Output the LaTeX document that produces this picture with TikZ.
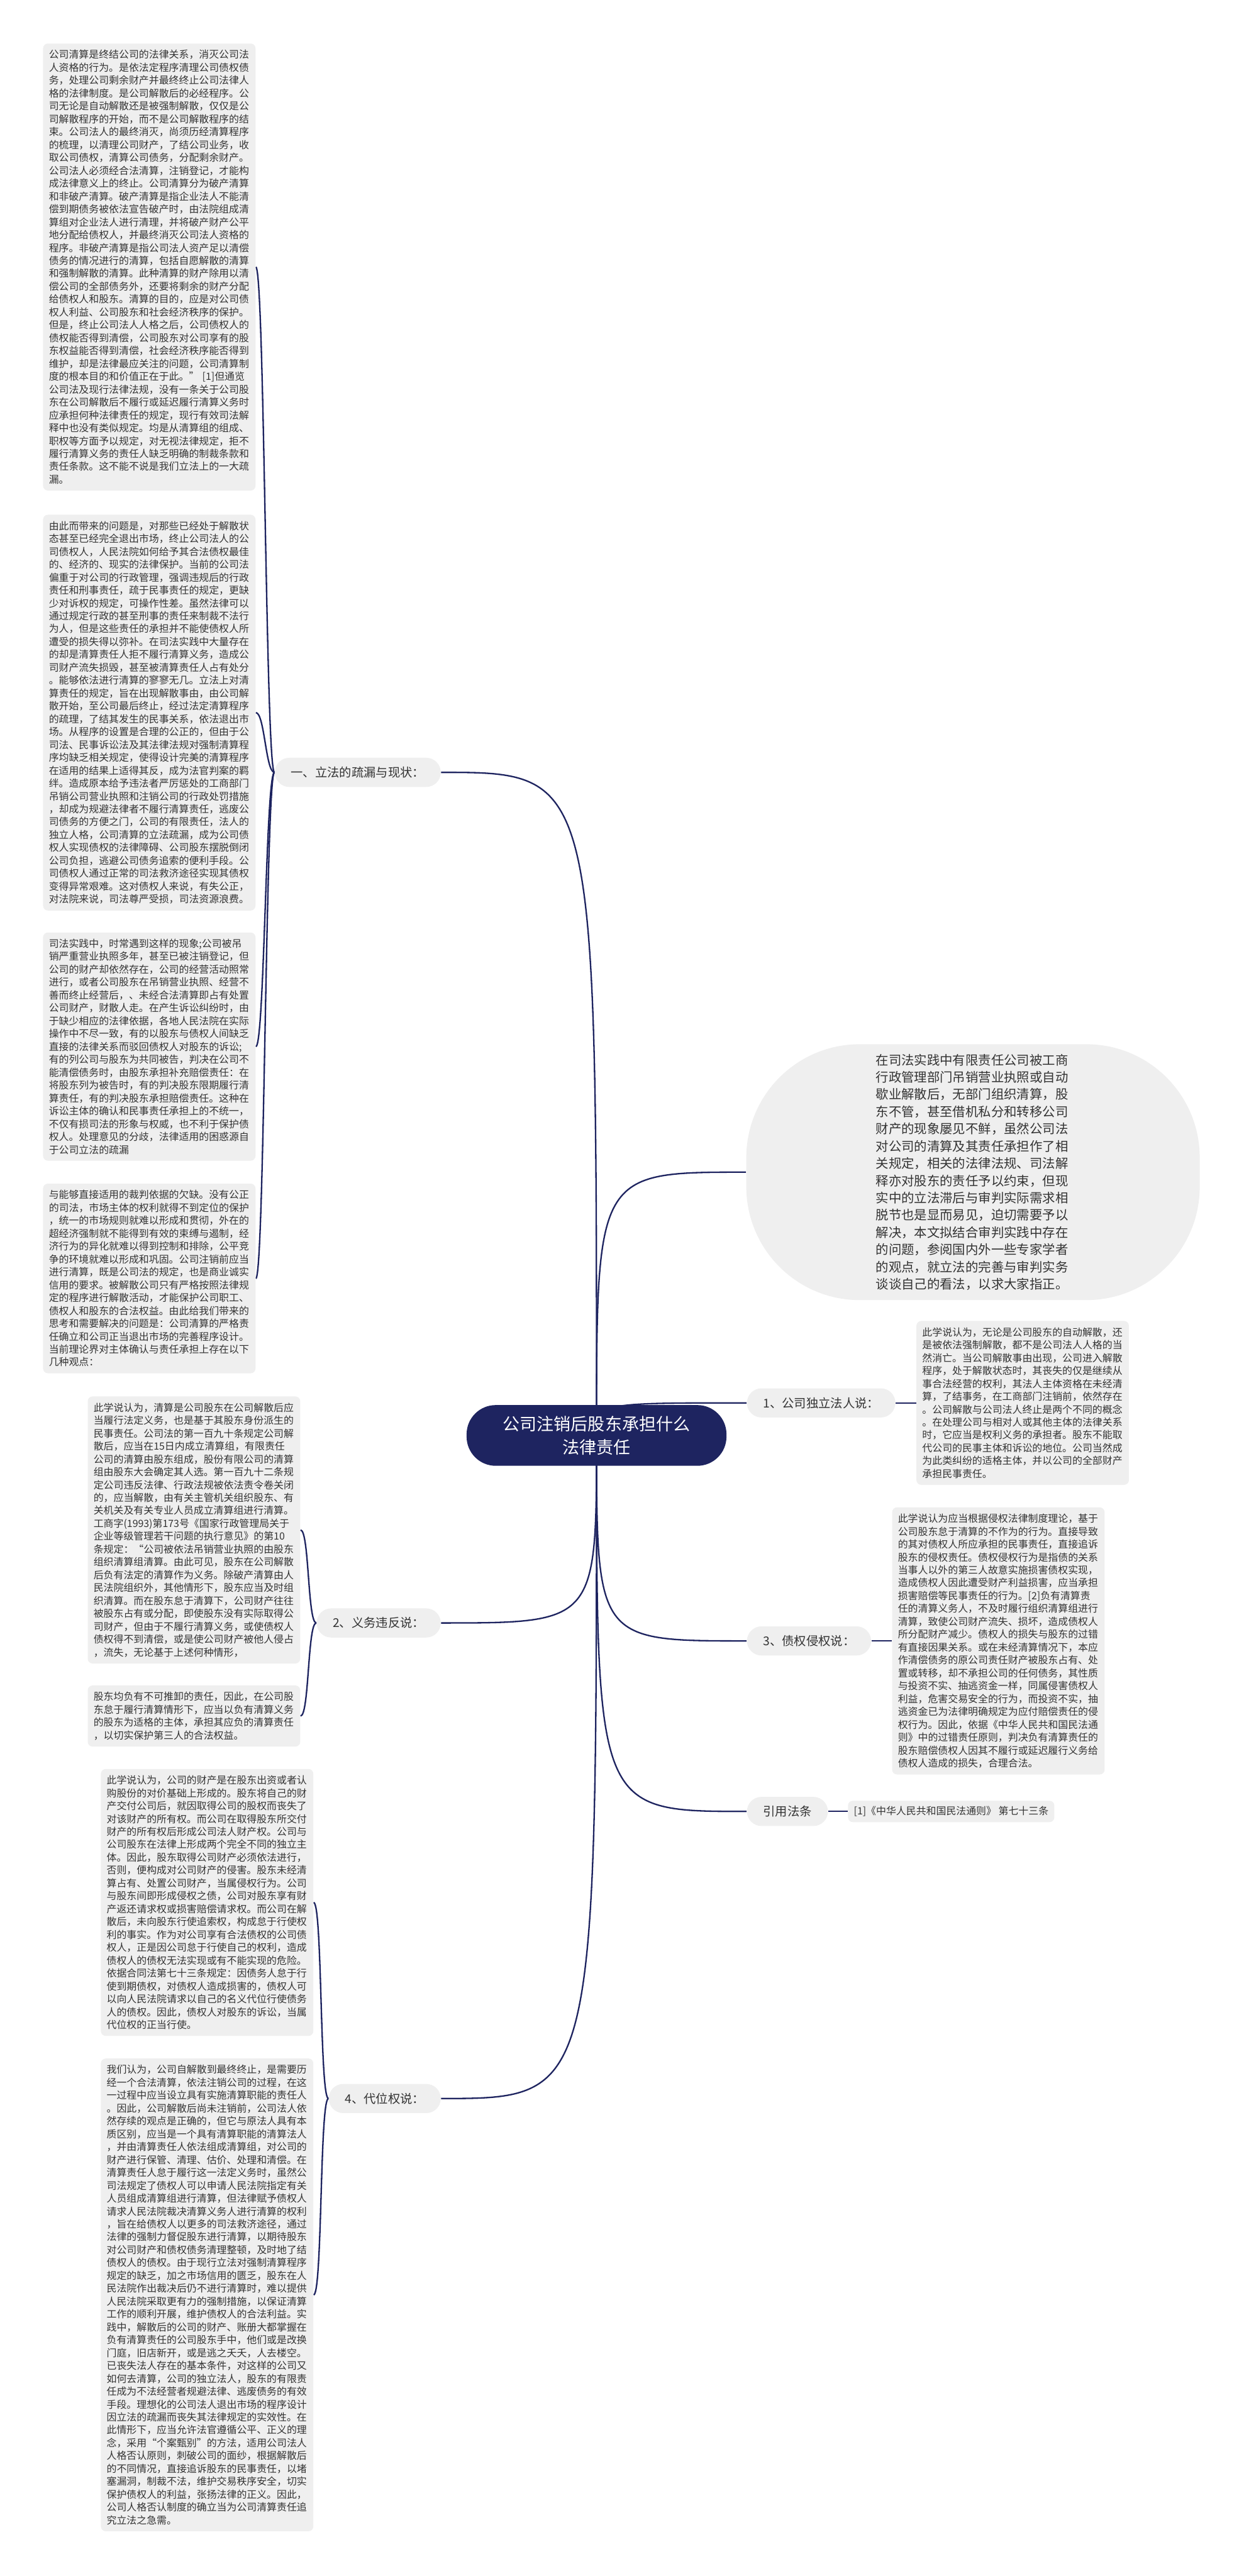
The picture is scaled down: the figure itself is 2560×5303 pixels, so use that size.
\documentclass[tikz,border=0pt]{standalone}
\usepackage{fontspec}
\newfontfamily\cjk{Noto Sans CJK SC}
\usetikzlibrary{backgrounds,calc}
\definecolor{navy}{HTML}{1E2460}
\definecolor{blkgray}{HTML}{EFEFEF}
\definecolor{txt}{HTML}{333333}
\newcommand\blkfont{\cjk\fontsize{6.18pt}{7.95pt}\selectfont}
\newcommand\labfont{\cjk\fontsize{7.5pt}{9pt}\selectfont}
\newcommand\elfont{\cjk\fontsize{7.92pt}{10.65pt}\selectfont}
\newcommand\cenfont{\cjk\fontsize{10.5pt}{14.4pt}\selectfont}
\tikzset{
  blk/.style={fill=blkgray, rounded corners=3pt, text=txt, font=\blkfont, align=left,
    text width=124pt, inner xsep=3.6pt, inner ysep=4pt},
  lab/.style={fill=blkgray, rounded corners=9pt, text=txt, font=\labfont,
    minimum height=18pt, inner xsep=10pt, inner ysep=0pt},
  conn/.style={draw=navy, line width=0.9pt},
}
\begin{document}
\begin{tikzpicture}[x=0.3pt, y=-0.3pt]
\useasboundingbox (0,0) rectangle (2560,5303);

% center
\node[fill=navy, rounded corners=18pt, minimum width=160.5pt, minimum height=37.5pt,
  text=white, font=\cenfont, align=center, inner sep=0pt] (C) at (1228,2955)
  {公司注销后股东承担什么\\法律责任};

% level-1 labels
\node[lab, anchor=east] (L1) at (908,1590) {一、立法的疏漏与现状：};
\node[lab, anchor=east] (L2) at (908,3341) {2、义务违反说：};
\node[lab, anchor=east] (L4) at (908,4320) {4、代位权说：};
\node[lab, anchor=west] (R1) at (1537,2888) {1、公司独立法人说：};
\node[lab, anchor=west] (R3) at (1537,3378) {3、债权侵权说：};
\node[lab, anchor=west] (Rf) at (1537,3729) {引用法条};

% summary
\node[fill=blkgray, rounded corners=70pt, minimum width=280pt, minimum height=158pt,
  text width=120pt, align=left, font=\elfont, text=txt, inner sep=0pt] (E) at (2003,2413)
{在司法实践中有限责任公司被工商\\
行政管理部门吊销营业执照或自动\\
歇业解散后，无部门组织清算，股\\
东不管，甚至借机私分和转移公司\\
财产的现象屡见不鲜，虽然公司法\\
对公司的清算及其责任承担作了相\\
关规定，相关的法律法规、司法解\\
释亦对股东的责任予以约束，但现\\
实中的立法滞后与审判实际需求相\\
脱节也是显而易见，迫切需要予以\\
解决，本文拟结合审判实践中存在\\
的问题，参阅国内外一些专家学者\\
的观点，就立法的完善与审判实务\\
谈谈自己的看法，以求大家指正。};

% left blocks
\node[blk, anchor=north west] (B1) at (88,89)
{公司清算是终结公司的法律关系，消灭公司法\\
人资格的行为。是依法定程序清理公司债权债\\
务，处理公司剩余财产并最终终止公司法律人\\
格的法律制度。是公司解散后的必经程序。公\\
司无论是自动解散还是被强制解散，仅仅是公\\
司解散程序的开始，而不是公司解散程序的结\\
束。公司法人的最终消灭，尚须历经清算程序\\
的梳理，以清理公司财产，了结公司业务，收\\
取公司债权，清算公司债务，分配剩余财产。\\
公司法人必须经合法清算，注销登记，才能构\\
成法律意义上的终止。公司清算分为破产清算\\
和非破产清算。破产清算是指企业法人不能清\\
偿到期债务被依法宣告破产时，由法院组成清\\
算组对企业法人进行清理，并将破产财产公平\\
地分配给债权人，并最终消灭公司法人资格的\\
程序。非破产清算是指公司法人资产足以清偿\\
债务的情况进行的清算，包括自愿解散的清算\\
和强制解散的清算。此种清算的财产除用以清\\
偿公司的全部债务外，还要将剩余的财产分配\\
给债权人和股东。清算的目的，应是对公司债\\
权人利益、公司股东和社会经济秩序的保护。\\
但是，终止公司法人人格之后，公司债权人的\\
债权能否得到清偿，公司股东对公司享有的股\\
东权益能否得到清偿，社会经济秩序能否得到\\
维护，却是法律最应关注的问题，公司清算制\\
度的根本目的和价值正在于此。”\ [1]但通览\\
公司法及现行法律法规，没有一条关于公司股\\
东在公司解散后不履行或延迟履行清算义务时\\
应承担何种法律责任的规定，现行有效司法解\\
释中也没有类似规定。均是从清算组的组成、\\
职权等方面予以规定，对无视法律规定，拒不\\
履行清算义务的责任人缺乏明确的制裁条款和\\
责任条款。这不能不说是我们立法上的一大疏\\
漏。};

\node[blk, anchor=north west] (B2) at (88,1059)
{由此而带来的问题是，对那些已经处于解散状\\
态甚至已经完全退出市场，终止公司法人的公\\
司债权人，人民法院如何给予其合法债权最佳\\
的、经济的、现实的法律保护。当前的公司法\\
偏重于对公司的行政管理，强调违规后的行政\\
责任和刑事责任，疏于民事责任的规定，更缺\\
少对诉权的规定，可操作性差。虽然法律可以\\
通过规定行政的甚至刑事的责任来制裁不法行\\
为人，但是这些责任的承担并不能使债权人所\\
遭受的损失得以弥补。在司法实践中大量存在\\
的却是清算责任人拒不履行清算义务，造成公\\
司财产流失损毁，甚至被清算责任人占有处分\\
。能够依法进行清算的寥寥无几。立法上对清\\
算责任的规定，旨在出现解散事由，由公司解\\
散开始，至公司最后终止，经过法定清算程序\\
的疏理，了结其发生的民事关系，依法退出市\\
场。从程序的设置是合理的公正的，但由于公\\
司法、民事诉讼法及其法律法规对强制清算程\\
序均缺乏相关规定，使得设计完美的清算程序\\
在适用的结果上适得其反，成为法官判案的羁\\
绊。造成原本给予违法者严厉惩处的工商部门\\
吊销公司营业执照和注销公司的行政处罚措施\\
，却成为规避法律者不履行清算责任，逃废公\\
司债务的方便之门，公司的有限责任，法人的\\
独立人格，公司清算的立法疏漏，成为公司债\\
权人实现债权的法律障碍、公司股东摆脱倒闭\\
公司负担，逃避公司债务追索的便利手段。公\\
司债权人通过正常的司法救济途径实现其债权\\
变得异常艰难。这对债权人来说，有失公正，\\
对法院来说，司法尊严受损，司法资源浪费。};

\node[blk, anchor=north west] (B3) at (88,1919)
{司法实践中，时常遇到这样的现象;公司被吊\\
销严重营业执照多年，甚至已被注销登记，但\\
公司的财产却依然存在，公司的经营活动照常\\
进行，或者公司股东在吊销营业执照、经营不\\
善而终止经营后，、未经合法清算即占有处置\\
公司财产，财散人走。在产生诉讼纠纷时，由\\
于缺少相应的法律依据，各地人民法院在实际\\
操作中不尽一致，有的以股东与债权人间缺乏\\
直接的法律关系而驳回债权人对股东的诉讼;\\
有的列公司与股东为共同被告，判决在公司不\\
能清偿债务时，由股东承担补充赔偿责任：在\\
将股东列为被告时，有的判决股东限期履行清\\
算责任，有的判决股东承担赔偿责任。这种在\\
诉讼主体的确认和民事责任承担上的不统一，\\
不仅有损司法的形象与权威，也不利于保护债\\
权人。处理意见的分歧，法律适用的困惑源自\\
于公司立法的疏漏};

\node[blk, anchor=north west] (B4) at (88,2436)
{与能够直接适用的裁判依据的欠缺。没有公正\\
的司法，市场主体的权利就得不到定位的保护\\
，统一的市场规则就难以形成和贯彻，外在的\\
超经济强制就不能得到有效的束缚与遏制，经\\
济行为的异化就难以得到控制和排除，公平竞\\
争的环境就难以形成和巩固。公司注销前应当\\
进行清算，既是公司法的规定，也是商业诚实\\
信用的要求。被解散公司只有严格按照法律规\\
定的程序进行解散活动，才能保护公司职工、\\
债权人和股东的合法权益。由此给我们带来的\\
思考和需要解决的问题是：公司清算的严格责\\
任确立和公司正当退出市场的完善程序设计。\\
当前理论界对主体确认与责任承担上存在以下\\
几种观点：};

\node[blk, anchor=north west] (B5) at (180,2874)
{此学说认为，清算是公司股东在公司解散后应\\
当履行法定义务，也是基于其股东身份派生的\\
民事责任。公司法的第一百九十条规定公司解\\
散后，应当在15日内成立清算组，有限责任\\
公司的清算由股东组成，股份有限公司的清算\\
组由股东大会确定其人选。第一百九十二条规\\
定公司违反法律、行政法规被依法责令卷关闭\\
的，应当解散，由有关主管机关组织股东、有\\
关机关及有关专业人员成立清算组进行清算。\\
工商字(1993)第173号《国家行政管理局关于\\
企业等级管理若干问题的执行意见》的第10\\
条规定：“公司被依法吊销营业执照的由股东\\
组织清算组清算。由此可见，股东在公司解散\\
后负有法定的清算作为义务。除破产清算由人\\
民法院组织外，其他情形下，股东应当及时组\\
织清算。而在股东怠于清算下，公司财产往往\\
被股东占有或分配，即使股东没有实际取得公\\
司财产，但由于不履行清算义务，或使债权人\\
债权得不到清偿，或是使公司财产被他人侵占\\
，流失，无论基于上述何种情形，};

\node[blk, anchor=north west] (B6) at (180,3469)
{股东均负有不可推卸的责任，因此，在公司股\\
东怠于履行清算情形下，应当以负有清算义务\\
的股东为适格的主体，承担其应负的清算责任\\
，以切实保护第三人的合法权益。};

\node[blk, anchor=north west] (B7) at (207,3641)
{此学说认为，公司的财产是在股东出资或者认\\
购股份的对价基础上形成的。股东将自己的财\\
产交付公司后，就因取得公司的股权而丧失了\\
对该财产的所有权。而公司在取得股东所交付\\
财产的所有权后形成公司法人财产权。公司与\\
公司股东在法律上形成两个完全不同的独立主\\
体。因此，股东取得公司财产必须依法进行，\\
否则，便构成对公司财产的侵害。股东未经清\\
算占有、处置公司财产，当属侵权行为。公司\\
与股东间即形成侵权之债，公司对股东享有财\\
产返还请求权或损害赔偿请求权。而公司在解\\
散后，未向股东行使追索权，构成怠于行使权\\
利的事实。作为对公司享有合法债权的公司债\\
权人，正是因公司怠于行使自己的权利，造成\\
债权人的债权无法实现或有不能实现的危险。\\
依据合同法第七十三条规定：因债务人怠于行\\
使到期债权，对债权人造成损害的，债权人可\\
以向人民法院请求以自己的名义代位行使债务\\
人的债权。因此，债权人对股东的诉讼，当属\\
代位权的正当行使。};

\node[blk, anchor=north west] (B8) at (207,4237)
{我们认为，公司自解散到最终终止，是需要历\\
经一个合法清算，依法注销公司的过程，在这\\
一过程中应当设立具有实施清算职能的责任人\\
。因此，公司解散后尚未注销前，公司法人依\\
然存续的观点是正确的，但它与原法人具有本\\
质区别，应当是一个具有清算职能的清算法人\\
，并由清算责任人依法组成清算组，对公司的\\
财产进行保管、清理、估价、处理和清偿。在\\
清算责任人怠于履行这一法定义务时，虽然公\\
司法规定了债权人可以申请人民法院指定有关\\
人员组成清算组进行清算，但法律赋予债权人\\
请求人民法院裁决清算义务人进行清算的权利\\
，旨在给债权人以更多的司法救济途径，通过\\
法律的强制力督促股东进行清算，以期待股东\\
对公司财产和债权债务清理整顿，及时地了结\\
债权人的债权。由于现行立法对强制清算程序\\
规定的缺乏，加之市场信用的匮乏，股东在人\\
民法院作出裁决后仍不进行清算时，难以提供\\
人民法院采取更有力的强制措施，以保证清算\\
工作的顺利开展，维护债权人的合法利益。实\\
践中，解散后的公司的财产、账册大都掌握在\\
负有清算责任的公司股东手中，他们或是改换\\
门庭，旧店新开，或是逃之夭夭，人去楼空。\\
已丧失法人存在的基本条件，对这样的公司又\\
如何去清算，公司的独立法人，股东的有限责\\
任成为不法经营者规避法律、逃废债务的有效\\
手段。理想化的公司法人退出市场的程序设计\\
因立法的疏漏而丧失其法律规定的实效性。在\\
此情形下，应当允许法官遵循公平、正义的理\\
念，采用“个案甄别”的方法，适用公司法人\\
人格否认原则，刺破公司的面纱，根据解散后\\
的不同情况，直接追诉股东的民事责任，以堵\\
塞漏洞，制裁不法，维护交易秩序安全，切实\\
保护债权人的利益，张扬法律的正义。因此，\\
公司人格否认制度的确立当为公司清算责任追\\
究立法之急需。};

% right blocks
\node[blk, anchor=west] (R1b) at ($(R1.east)+(42,0)$)
{此学说认为，无论是公司股东的自动解散，还\\
是被依法强制解散，都不是公司法人人格的当\\
然消亡。当公司解散事由出现，公司进入解散\\
程序，处于解散状态时，其丧失的仅是继续从\\
事合法经营的权利，其法人主体资格在未经清\\
算，了结事务，在工商部门注销前，依然存在\\
。公司解散与公司法人终止是两个不同的概念\\
。在处理公司与相对人或其他主体的法律关系\\
时，它应当是权利义务的承担者。股东不能取\\
代公司的民事主体和诉讼的地位。公司当然成\\
为此类纠纷的适格主体，并以公司的全部财产\\
承担民事责任。};

\node[blk, anchor=west] (R3b) at ($(R3.east)+(42,0)$)
{此学说认为应当根据侵权法律制度理论，基于\\
公司股东怠于清算的不作为的行为。直接导致\\
的其对债权人所应承担的民事责任，直接追诉\\
股东的侵权责任。债权侵权行为是指债的关系\\
当事人以外的第三人故意实施损害债权实现，\\
造成债权人因此遭受财产利益损害，应当承担\\
损害赔偿等民事责任的行为。[2]负有清算责\\
任的清算义务人，不及时履行组织清算组进行\\
清算，致使公司财产流失、损坏，造成债权人\\
所分配财产减少。债权人的损失与股东的过错\\
有直接因果关系。或在未经清算情况下，本应\\
作清偿债务的原公司责任财产被股东占有、处\\
置或转移，却不承担公司的任何债务，其性质\\
与投资不实、抽逃资金一样，同属侵害债权人\\
利益，危害交易安全的行为，而投资不实，抽\\
逃资金已为法律明确规定为应付赔偿责任的侵\\
权行为。因此，依据《中华人民共和国民法通\\
则》中的过错责任原则，判决负有清算责任的\\
股东赔偿债权人因其不履行或延迟履行义务给\\
债权人造成的损失，合理合法。};

\node[fill=blkgray, rounded corners=3pt, text=txt, font=\blkfont, inner xsep=3.6pt,
  inner ysep=0pt, minimum height=13.2pt, anchor=west] (Rfb) at ($(Rf.east)+(40,0)$)
{[1]《中华人民共和国民法通则》\ 第七十三条};

\begin{pgfonlayer}{background}
\fill[white] (0,0) rectangle (2560,5303);
\foreach \n in {L1,L2,L4} {
  \draw[conn] (C.center) .. controls (C.center |- \n.east) .. (\n.east);
}
\foreach \n in {E,R1,R3,Rf} {
  \draw[conn] (C.center) .. controls (C.center |- \n.west) .. (\n.west);
}
\foreach \a/\b in {L1/B1,L1/B2,L1/B3,L1/B4,L2/B5,L2/B6,L4/B7,L4/B8} {
  \draw[conn] (\a.west) .. controls +(-18,0) and +(18,0) .. (\b.east);
}
\draw[conn] (R1.east) -- (R1b.west);
\draw[conn] (R3.east) -- (R3b.west);
\draw[conn] (Rf.east) -- (Rfb.west);
\end{pgfonlayer}
\end{tikzpicture}
\end{document}
